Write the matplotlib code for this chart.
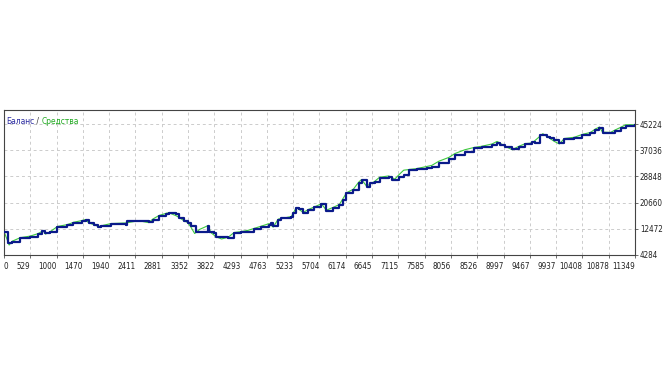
import matplotlib
matplotlib.use("Agg")
import matplotlib.pyplot as plt

# deal number / balance (step curve)
bal_x = [62, 134, 206, 296, 349, 529, 673, 745, 798, 888, 1014, 1194, 1301, 1463, 1517,
         1571, 1660, 1732, 1786, 1966, 2235, 2253, 2469, 2648, 2720, 2828, 2954, 3007, 3133,
         3187, 3277, 3349, 3403, 3492, 3636, 3708, 3726, 3816, 3852, 4067, 4175, 4301, 4426,
         4534, 4660, 4803, 4839, 4875, 4965, 5019, 5199, 5235, 5288, 5342, 5414, 5504, 5611,
         5737, 5827, 5953, 6061, 6133, 6186, 6312, 6402, 6456, 6546, 6600, 6690, 6779, 6851,
         6941, 6995, 7121, 7210, 7300, 7444, 7624, 7713, 7839, 8019, 8126, 8306, 8468, 8612,
         8791, 8881, 8935, 9025, 9150, 9276, 9384, 9509, 9560, 9653, 9779, 9833, 9905, 9995,
         10085, 10264, 10408, 10552, 10642, 10714, 10768, 10912, 10984, 11092, 11181, 11343]
bal_y = [11471, 8034, 8346, 8346, 9596, 9909, 10846, 11784, 11159, 11471, 13034, 13659, 14284,
         14909, 15221, 14284, 13659, 13034, 13346, 13971, 13659, 14909, 14909, 14596, 15221,
         16471, 17096, 17409, 17096, 15846, 14909, 14284, 13346, 11471, 11471, 13346, 11471,
         11159, 9909, 9596, 11159, 11471, 11471, 12409, 13034, 13659, 14284, 13346, 15221,
         15846, 16159, 17409, 18971, 18659, 17409, 18346, 19284, 20221, 18034, 18971, 19909,
         21471, 23659, 24596, 26784, 27721, 25534, 26784, 27096, 28346, 28346, 28659, 27721,
         28659, 29284, 30846, 31159, 31471, 31784, 33034, 34284, 35534, 36471, 37721, 38034,
         38659, 39284, 38659, 38034, 37409, 38034, 38971, 39596, 39284, 41784, 41159, 40846,
         40221, 39284, 40534, 40846, 41784, 42409, 43346, 43971, 42409, 42409, 43034, 43971,
         44596, 44909]

# deal number / equity
eq_x = [62, 110, 150, 206, 349, 529, 673, 760, 800, 888, 1014, 1194, 1301, 1463, 1517, 1571,
        1660, 1750, 1966, 2235, 2469, 2648, 2720, 2828, 2954, 3007, 3133, 3187, 3277, 3349,
        3403, 3470, 3560, 3650, 3708, 3760, 3852, 3950, 4067, 4175, 4301, 4426, 4534, 4660,
        4803, 4875, 4965, 5199, 5288, 5414, 5504, 5611, 5737, 5827, 5953, 6061, 6186, 6312,
        6402, 6456, 6546, 6690, 6779, 6941, 7050, 7121, 7210, 7444, 7713, 7839, 8019, 8126,
        8306, 8468, 8612, 8791, 8881, 9025, 9150, 9276, 9384, 9509, 9700, 9779, 9905, 9995,
        10085, 10264, 10408, 10552, 10642, 10714, 10768, 10912, 10984, 11092, 11181, 11343]
eq_y = [11471, 9300, 7400, 8600, 9700, 10200, 11000, 11900, 10800, 11600, 13200, 13800, 14500,
        15100, 15400, 14400, 13800, 13200, 14100, 14300, 15000, 14400, 15500, 16600, 17300,
        17500, 16600, 16100, 15000, 14400, 13000, 11000, 12300, 13000, 13500, 11300, 10000,
        9300, 9800, 11300, 11600, 12000, 12600, 13300, 14100, 13000, 15500, 16300, 19100,
        17600, 18500, 19300, 20300, 18300, 19200, 20100, 23700, 24900, 27000, 27900, 25800,
        27300, 28600, 29000, 28000, 29300, 30800, 31300, 32300, 33600, 34800, 36000, 37200,
        37900, 38300, 39000, 39800, 38300, 37200, 38300, 39100, 39300, 42200, 41300, 39800,
        39000, 40700, 41100, 42000, 42600, 43700, 44300, 42700, 42600, 43300, 44200, 45000,
        45000]

x_labels = ["0", "529", "1000", "1470", "1940", "2411", "2881", "3352", "3822", "4293", "4763",
            "5233", "5704", "6174", "6645", "7115", "7585", "8056", "8526", "8997", "9467",
            "9937", "10408", "10878", "11349"]
y_ticks = [4284, 12472, 20660, 28848, 37036, 45224]

plt.rcParams['font.family'] = ['DejaVu Sans']
plt.rcParams['font.stretch'] = 'condensed'

fig = plt.figure(figsize=(6.72, 3.78), dpi=100)
ax = fig.add_axes([4 / 672, 1 - 255 / 378, 631 / 672, 145 / 378])

ax.plot(eq_x, eq_y, color='#3cc83c', lw=0.8, zorder=2)
ax.plot(bal_x, bal_y, color='#0a1a8a', lw=1.6, drawstyle='steps-post', zorder=3)

step = 470.45
x_pos = [58.5 + i * step for i in range(len(x_labels))]
ax.set_xlim(x_pos[0], x_pos[-1])
ax.set_ylim(4284, 49620)

ax.set_xticks(x_pos)
ax.set_xticklabels(x_labels)
for i, t in enumerate(ax.get_xticklabels()):
    t.set_ha('left' if i == 0 else 'right')
ax.set_yticks(y_ticks)
ax.yaxis.tick_right()
ax.tick_params(axis='both', labelsize=5.8, length=2, width=0.6, color='#555555',
               labelcolor='#222222', pad=1.5)
ax.tick_params(axis='x', pad=3)

ax.grid(True, color='#cccccc', lw=0.7, ls=(0, (3, 3)))
for s in ax.spines.values():
    s.set_color('#444444')
    s.set_linewidth(0.8)

t1 = ax.text(0.003, 0.955, "Баланс", transform=ax.transAxes, fontsize=6,
             color='#2a2aa0', va='top', ha='left')
t2 = ax.annotate(" / ", xy=(1, 0), xycoords=t1, va='bottom', ha='left',
                 fontsize=6, color='#333333')
ax.annotate("Средства", xy=(1, 0), xycoords=t2, va='bottom', ha='left',
            fontsize=6, color='#22aa22')

fig.savefig("out.png", dpi=100)
